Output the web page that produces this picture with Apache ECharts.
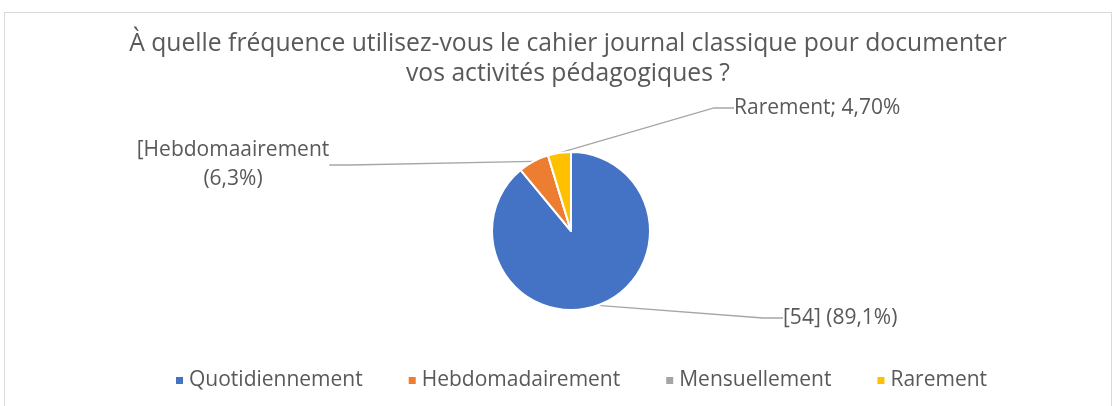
<!DOCTYPE html>
<html>
<head>
<meta charset="utf-8">
<script src="https://cdn.jsdelivr.net/npm/echarts@6/dist/echarts.min.js"></script>
<style>
    html, body { margin: 0; padding: 0; background: #fff; }
    #frame { position: absolute; left: 4px; top: 12px; width: 1108px; height: 420px; border: 1px solid #d9d9d9; box-sizing: border-box; }
    #chart { position: absolute; left: 0; top: 0; width: 1118px; height: 406px; }
</style>
</head>
<body>
<div id="frame"></div>
<div id="chart"></div>
<script>
var categories = ['Quotidiennement', 'Hebdomadairement', 'Mensuellement', 'Rarement'];
var values = [89.1, 6.3, 0, 4.7];
var labelTexts = ['[54] (89,1%)', '[Hebdomaairement\n(6,3%)', '', 'Rarement; 4,70%'];
var colors = ['#4472c4', '#ed7d31', '#a5a5a5', '#ffc000'];

var font = 'Open Sans, Noto Sans, sans-serif';
var chart = echarts.init(document.getElementById('chart'));

// label anchor spots, one per slice
var labelSpots = [
    { x: 783, y: 318, align: 'left' },
    { x: 233, y: 165, align: 'center' },
    null,
    { x: 734, y: 108, align: 'left' }
];

var option = {
    animation: false,
    color: colors,
    title: {
        text: 'À quelle fréquence utilisez-vous le cahier journal classique pour documenter\nvos activités pédagogiques ?',
        left: 563,
        top: 24,
        textAlign: 'center',
        textStyle: { fontFamily: font, fontSize: 24.7, fontWeight: 'normal', color: '#595959', lineHeight: 30 }
    },
    legend: {
        bottom: 10,
        left: 169,
        itemWidth: 9,
        itemHeight: 9,
        itemGap: 44,
        icon: 'rect',
        data: categories,
        textStyle: { fontFamily: font, fontSize: 21, color: '#595959' }
    },
    series: [{
        type: 'pie',
        center: [571, 231],
        radius: [0, 79],
        startAngle: 90,
        clockwise: true,
        minAngle: 0,
        avoidLabelOverlap: false,
        itemStyle: { borderColor: '#fff', borderWidth: 2 },
        data: categories.map(function(name, i) {
            var d = { name: name, value: values[i] };
            if (!values[i]) {
                d.label = { show: false };
                d.labelLine = { show: false };
            }
            return d;
        }),
        label: {
            show: true,
            formatter: function(p) { return labelTexts[p.dataIndex]; },
            fontFamily: font,
            fontSize: 21,
            color: '#595959',
            lineHeight: 29
        },
        labelLine: {
            show: true,
            length: 20,
            length2: 20,
            lineStyle: { color: '#a6a6a6', width: 1.3 }
        },
        labelLayout: function(params) {
            var s = labelSpots[params.dataIndex];
            if (!s) return {};
            return { x: s.x, y: s.y, align: s.align, verticalAlign: 'middle' };
        }
    }]
};
chart.setOption(option);
</script>
</body>
</html>
